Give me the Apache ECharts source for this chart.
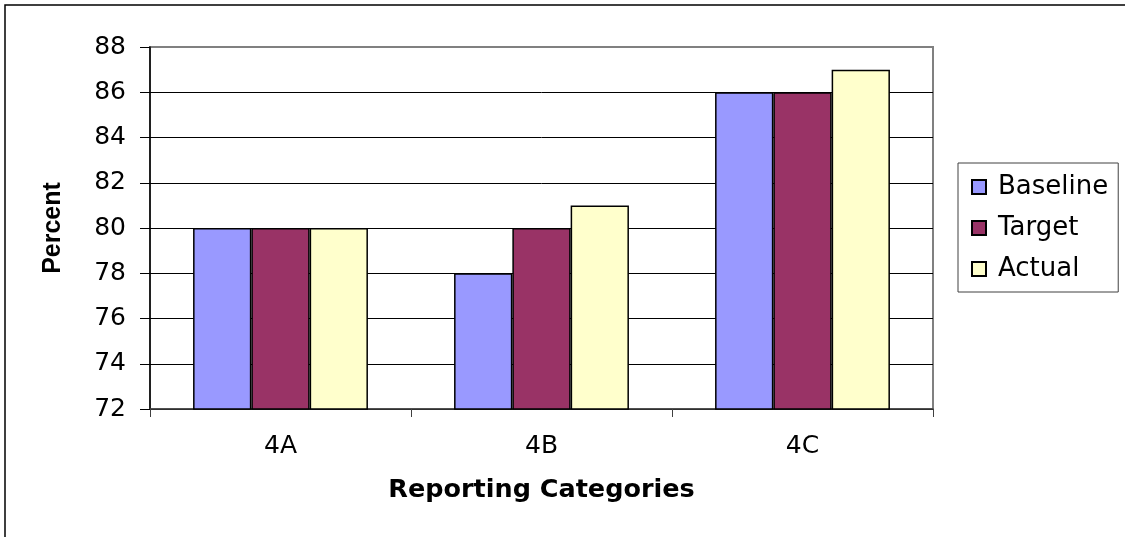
<!DOCTYPE html>
<html>
<head>
<meta charset="utf-8">
<script src="https://cdn.jsdelivr.net/npm/echarts@6/dist/echarts.min.js"></script>
<style>
  html, body { margin: 0; padding: 0; background: #fff; }
  #chart { width: 1125px; height: 537px; }
</style>
</head>
<body>
<div id="chart"></div>
<script>
  // data
  const categories = ['4A', '4B', '4C'];
  const baseline = [80, 78, 86];
  const target = [80, 80, 86];
  const actual = [80, 81, 87];
  const seriesNames = ['Baseline', 'Target', 'Actual'];
  const seriesColors = ['#9999ff', '#993366', '#ffffcc'];

  // the reference text is a bit wide, DejaVu fits it better horizontally
  const wideFont = 'DejaVu Sans, sans-serif';
  const font = 'Liberation Sans, Arial, sans-serif';
  const chart = echarts.init(document.getElementById('chart'));

  const values = [baseline, target, actual];
  const series = seriesNames.map((name, i) => ({
    name: name,
    type: 'bar',
    data: values[i],
    barGap: '0%',
    barCategoryGap: '33%',
    itemStyle: { color: seriesColors[i], borderColor: '#000', borderWidth: 1.5 }
  }));

  chart.setOption({
    animation: false,
    textStyle: { fontFamily: wideFont },
    grid: {
      left: 150, right: 192, top: 47, bottom: 128,
      show: true, borderColor: '#808080', borderWidth: 2, backgroundColor: '#fff'
    },
    legend: {
      orient: 'vertical',
      left: 958, top: 163,
      padding: [11, 10, 10, 13],
      itemGap: 15,
      itemWidth: 14, itemHeight: 14,
      borderColor: '#404040', borderWidth: 1,
      icon: 'rect',
      data: seriesNames,
      textStyle: { fontSize: 26, color: '#000', fontFamily: wideFont, padding: [0, 0, 0, 7] }
    },
    xAxis: {
      type: 'category',
      data: categories,
      name: 'Reporting Categories',
      nameLocation: 'middle',
      nameGap: 68,
      nameTextStyle: { fontSize: 25.5, fontWeight: 'bold', color: '#000', fontFamily: wideFont },
      axisLine: { lineStyle: { color: '#404040', width: 1.5 } },
      axisTick: { show: true, length: 8, lineStyle: { color: '#404040' } },
      axisLabel: { fontSize: 25, color: '#000', margin: 25 },
      splitLine: { show: false }
    },
    yAxis: {
      type: 'value',
      min: 72, max: 88, interval: 2,
      name: 'Percent',
      nameLocation: 'middle',
      nameGap: 84,
      nameTextStyle: { fontSize: 25, fontWeight: 'bold', color: '#000', fontFamily: font },
      axisLine: { show: true, lineStyle: { color: '#000', width: 1.5 } },
      axisTick: { show: true, length: 10, lineStyle: { color: '#000' } },
      axisLabel: { fontSize: 25, color: '#000', margin: 24 },
      splitLine: {
        show: true,
        lineStyle: { color: ['#000', '#000', '#000', '#000', '#000', '#000', '#000', '#000', '#808080'], width: 1 }
      }
    },
    graphic: [{
      type: 'polyline',
      shape: { points: [[5, 537], [5, 5], [1125, 5]] },
      style: { stroke: '#000', lineWidth: 1.5, fill: null }
    }],
    series: series
  });
</script>
</body>
</html>
